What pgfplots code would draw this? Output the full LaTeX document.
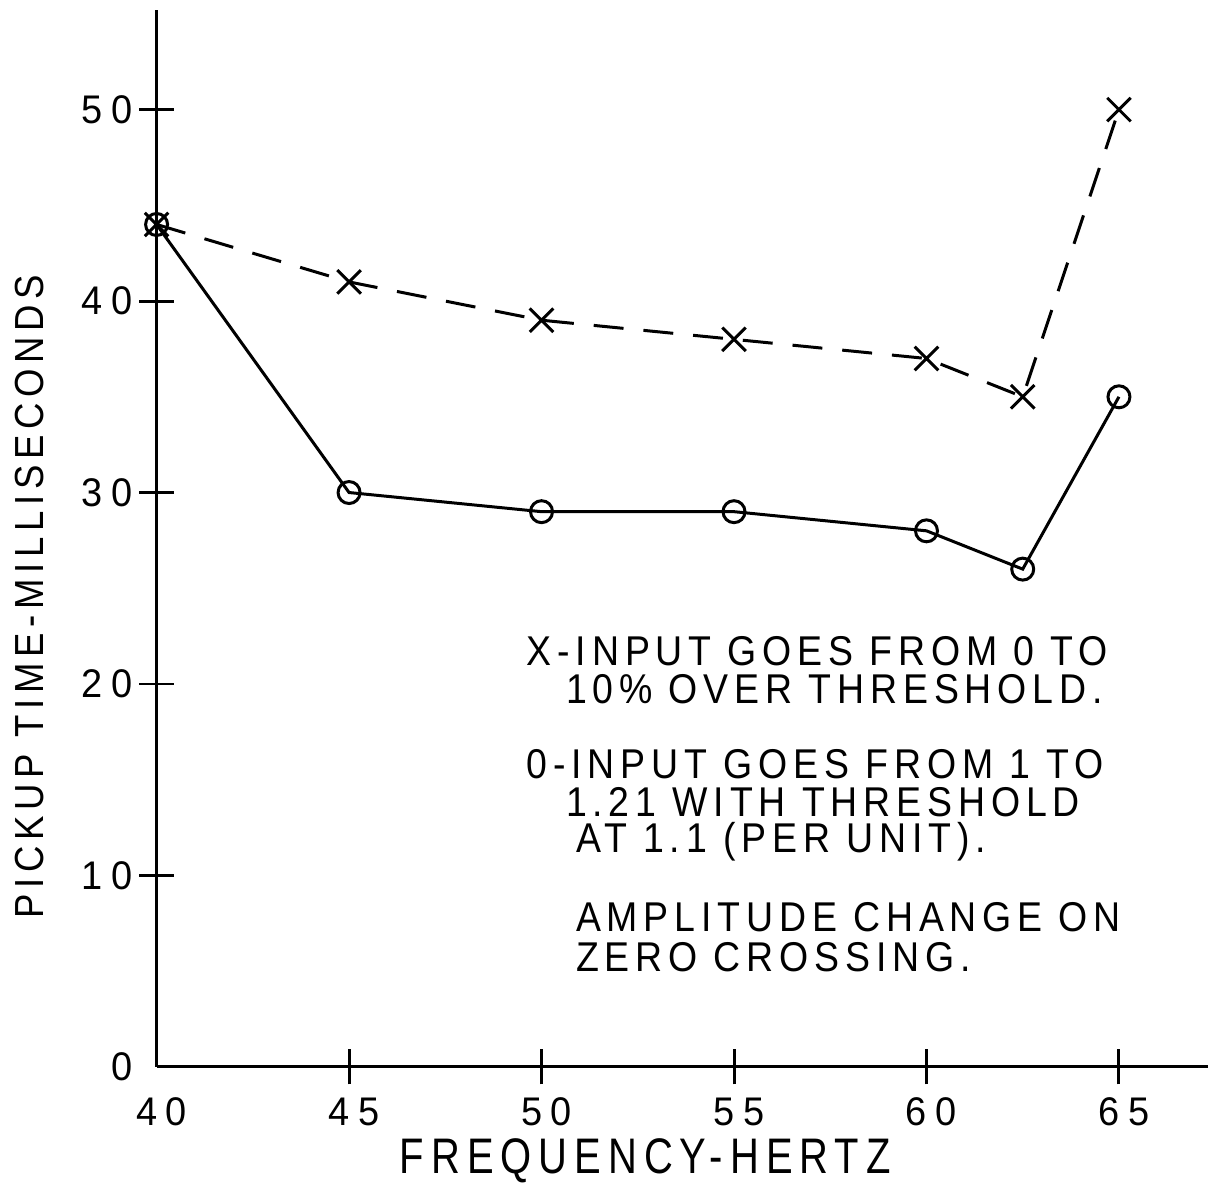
\documentclass[border=0pt]{standalone}
\usepackage{fontspec}
\setmainfont{Liberation Sans}[LetterSpace=14, FakeStretch=0.9]
\newfontfamily\labfont{Liberation Sans}[LetterSpace=14, FakeStretch=0.8]
\newfontfamily\tickfont{Liberation Sans}[LetterSpace=22, FakeStretch=0.95]
\usepackage{pgfplots}
\pgfplotsset{compat=1.18}
\begin{document}
\begin{tikzpicture}
\begin{axis}[
  scale only axis,
  width=315.6pt, height=317.4pt,
  xmin=40, xmax=67.3, ymin=0, ymax=55.2,
  axis lines=left,
  axis line style={-, line width=0.9pt},
  every tick/.style={line width=0.9pt, black},
  tick align=center,
  major tick length=10.5pt,
  xtick={45,50,...,65},
  ytick={10,20,...,50},
  extra x ticks={40}, extra y ticks={0},
  extra tick style={major tick style={draw=none}},
  /pgf/number format/assume math mode=true,
  ticklabel style={font=\tickfont\fontsize{12}{14}\selectfont},
  xticklabel style={yshift=-0.5pt, xshift=1.5pt},
  yticklabel style={xshift=1.5pt},
  xlabel={FREQUENCY-HERTZ},
  ylabel={PICKUP TIME-MILLISECONDS},
  xlabel style={font=\labfont\fontsize{15}{18}\selectfont, inner sep=0pt, at={(axis description cs:0.465,-0.089)}, anchor=center},
  ylabel style={font=\fontsize{12.2}{15}\selectfont, at={(axis description cs:-0.121,0.445)}, anchor=center},
  clip=false,
]
\addplot[black, line width=0.9pt, dash pattern=on 9pt off 6pt, mark=x, mark size=5pt, mark options={solid}]
  coordinates {(40,44) (45,41) (50,39) (55,38) (60,37) (62.5,35) (65,50)};
\addplot[black, line width=0.9pt, mark=o, mark size=3.3pt, mark options={solid}]
  coordinates {(40,44) (45,30) (50,29) (55,29) (60,28) (62.5,26) (65,35)};
\begin{scope}[every node/.style={anchor=west, font=\fontsize{12.5}{15}\selectfont, inner sep=0pt}]
\node at (axis cs:49.6,21.72) {X-INPUT GOES FROM 0 TO};
\node at (axis cs:50.62,19.74) {10\% OVER THRESHOLD.};
\node at (axis cs:49.6,15.82) {0-INPUT GOES FROM 1 TO};
\node at (axis cs:50.62,13.84) {1.21 WITH THRESHOLD};
\node at (axis cs:50.88,11.75) {AT 1.1 (PER UNIT).};
\node at (axis cs:50.88,7.83) {AMPLITUDE CHANGE ON};
\node at (axis cs:50.88,5.74) {ZERO CROSSING.};
\end{scope}
\coordinate (bl) at (axis description cs:-0.149,-0.105);
\coordinate (tr) at (axis description cs:1,1.0095);
\end{axis}
\path (bl) rectangle (tr);
\end{tikzpicture}
\end{document}
